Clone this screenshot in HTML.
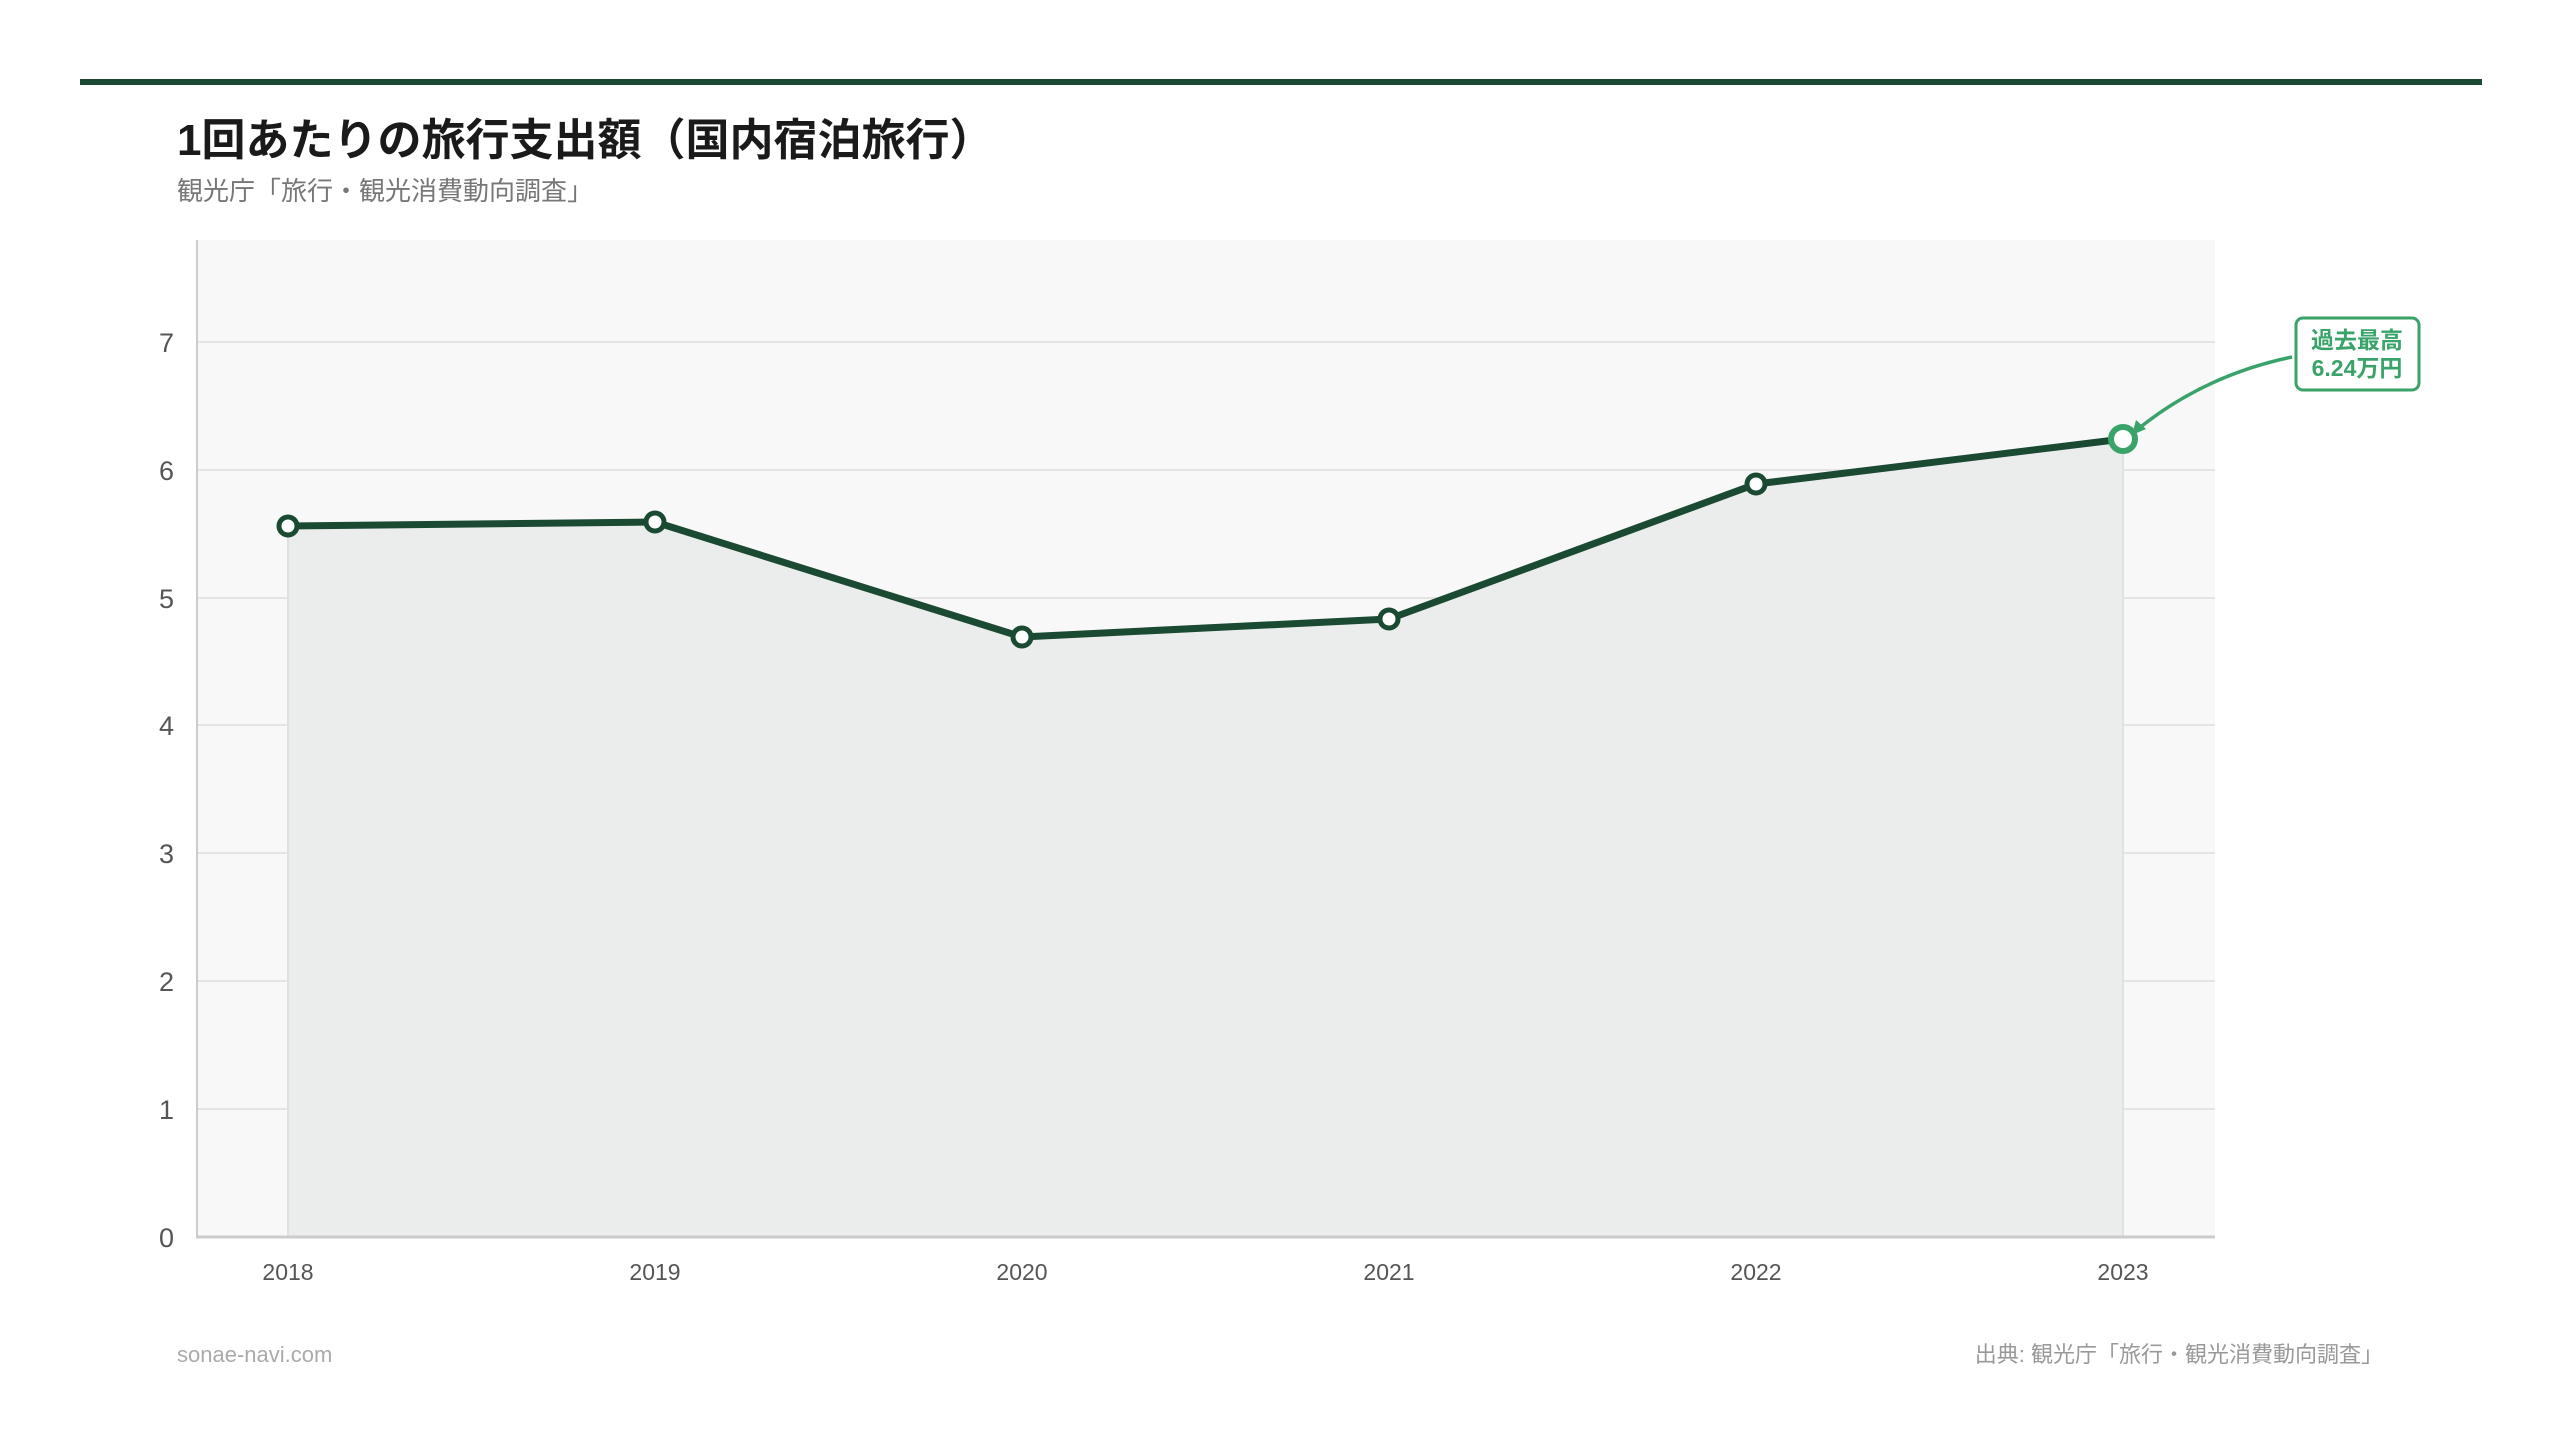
<!DOCTYPE html>
<html><head><meta charset="utf-8"><style>
html,body{margin:0;padding:0;background:#fff;}
svg{display:block;}
text{font-family:"Liberation Sans","Noto Sans CJK JP",sans-serif;}
</style></head><body>
<svg width="2560" height="1445" viewBox="0 0 2560 1445" xmlns="http://www.w3.org/2000/svg">
<rect x="80" y="79" width="2402" height="6" fill="#1b4a32"/>
<text x="177" y="155" font-size="44" font-weight="bold" fill="#1a1a1a">1回あたりの旅行支出額（国内宿泊旅行）</text>
<text x="177" y="200" font-size="26" fill="#777">観光庁「旅行・観光消費動向調査」</text>
<rect x="197" y="240" width="2018" height="997" fill="#f8f8f8"/>
<g stroke="#e4e4e4" stroke-width="2">
<line x1="197" y1="342" x2="2215" y2="342"/><line x1="197" y1="470" x2="2215" y2="470"/>
<line x1="197" y1="598" x2="2215" y2="598"/><line x1="197" y1="725" x2="2215" y2="725"/>
<line x1="197" y1="853" x2="2215" y2="853"/><line x1="197" y1="981" x2="2215" y2="981"/>
<line x1="197" y1="1109" x2="2215" y2="1109"/>
</g>
<polygon points="288,526 655,522 1022,637 1389,619 1756,484 2123,439 2123,1237 288,1237" fill="#ebedec"/>
<line x1="288" y1="526" x2="288" y2="1237" stroke="#e0e0e0" stroke-width="2"/>
<line x1="2123" y1="439" x2="2123" y2="1237" stroke="#e0e0e0" stroke-width="2"/>
<line x1="197" y1="240" x2="197" y2="1237" stroke="#ccc" stroke-width="2"/>
<line x1="196" y1="1237" x2="2215" y2="1237" stroke="#ccc" stroke-width="3"/>
<g font-size="27" fill="#555" text-anchor="end">
<text x="174" y="1247">0</text><text x="174" y="1119">1</text><text x="174" y="991">2</text>
<text x="174" y="863">3</text><text x="174" y="735">4</text><text x="174" y="608">5</text>
<text x="174" y="480">6</text><text x="174" y="352">7</text>
</g>
<g font-size="23" fill="#555" text-anchor="middle">
<text x="288" y="1280">2018</text><text x="655" y="1280">2019</text><text x="1022" y="1280">2020</text>
<text x="1389" y="1280">2021</text><text x="1756" y="1280">2022</text><text x="2123" y="1280">2023</text>
</g>
<polyline points="288,526 655,522 1022,637 1389,619 1756,484 2123,439" fill="none" stroke="#1b4a32" stroke-width="7" stroke-linejoin="round"/>
<g fill="#fff" stroke="#1b4a32" stroke-width="5">
<circle cx="288" cy="526" r="9"/><circle cx="655" cy="522" r="9"/><circle cx="1022" cy="637" r="9"/>
<circle cx="1389" cy="619" r="9"/><circle cx="1756" cy="484" r="9"/>
</g>
<circle cx="2123" cy="439" r="12" fill="#fff" stroke="#3aa36a" stroke-width="6"/>
<path d="M2292,357 Q2205,375 2138,429" fill="none" stroke="#3aa36a" stroke-width="3.5"/>
<path d="M2132,435 L2136,420 L2146,429 Z" fill="#3aa36a"/>
<rect x="2296" y="318" width="123" height="72" rx="7" fill="#fff" stroke="#3aa36a" stroke-width="3"/>
<g font-size="23" font-weight="bold" fill="#3aa36a" text-anchor="middle">
<text x="2357" y="348">過去最高</text><text x="2357" y="376">6.24万円</text>
</g>
<text x="177" y="1362" font-size="22" fill="#aaa">sonae-navi.com</text>
<text x="2383" y="1362" font-size="22" fill="#999" text-anchor="end">出典: 観光庁「旅行・観光消費動向調査」</text>
</svg>
</body></html>
